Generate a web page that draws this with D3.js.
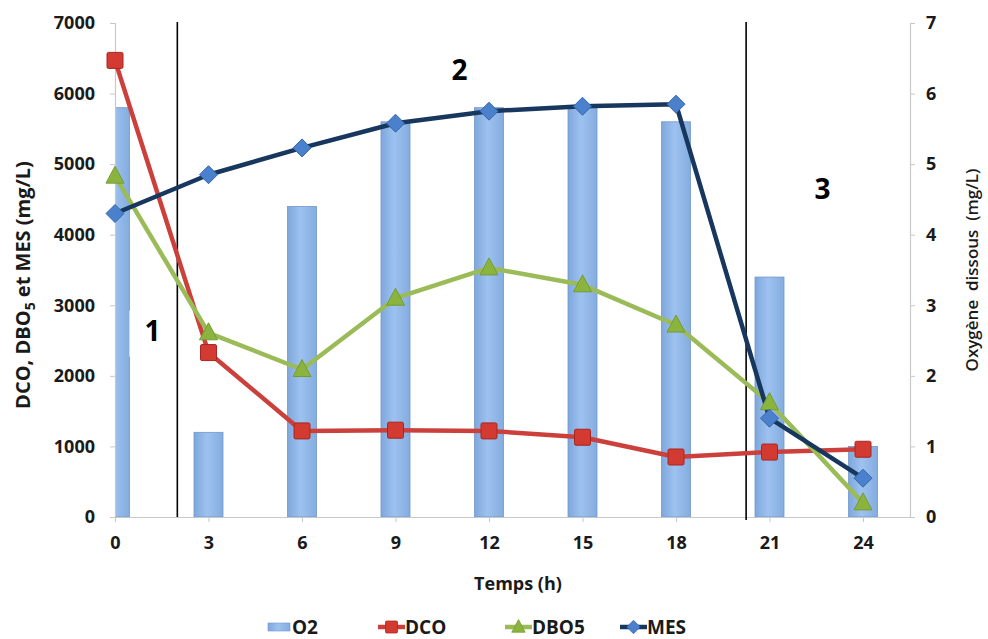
<!DOCTYPE html>
<html>
<head>
<meta charset="utf-8">
<script src="https://cdn.jsdelivr.net/npm/d3@7/dist/d3.min.js"></script>
<style>
  html, body { margin: 0; padding: 0; background: #fff; }
  svg { display: block; font-family: "Open Sans", Lato, sans-serif; }
</style>
</head>
<body>
<svg id="chart" width="988" height="639"></svg>
<script>
// Sampling times (h)
const hours = [0, 3, 6, 9, 12, 15, 18, 21, 24];
// Dissolved oxygen (mg/L), right axis
const o2 = [5.8, 1.2, 4.4, 5.6, 5.8, 5.8, 5.6, 3.4, 1.0];
// DCO, DBO5, MES (mg/L), left axis
const dco = [6470, 2330, 1220, 1230, 1220, 1130, 850, 920, 960];
const dbo5 = [4830, 2610, 2090, 3100, 3530, 3290, 2720, 1620, 200];
const mes = [4300, 4850, 5230, 5580, 5750, 5820, 5850, 1400, 550];

const leftTicks = [0, 1000, 2000, 3000, 4000, 5000, 6000, 7000];
const rightTicks = [0, 1, 2, 3, 4, 5, 6, 7];
// Phase boundaries (h) and phase labels
const phaseBounds = [2, 20.25];
const phaseLabels = [
  { text: "1", h: 1.2, v: 2500, boxed: true },
  { text: "2", h: 11.05, v: 6190 },
  { text: "3", h: 22.7, v: 4500 }
];

const svg = d3.select("#chart");
const plot = { left: 115, right: 910, top: 23, bottom: 517 };

const x = d3.scaleLinear().domain([0, 24]).range([115, 863]);
const yL = d3.scaleLinear().domain([0, 7000]).range([plot.bottom, plot.top]);
const yR = d3.scaleLinear().domain([0, 7]).range([plot.bottom, plot.top]);

const defs = svg.append("defs");
const barGrad = defs.append("linearGradient").attr("id", "barGrad")
  .attr("x1", "0%").attr("x2", "100%").attr("y1", "0%").attr("y2", "0%");
barGrad.append("stop").attr("offset", "0%").attr("stop-color", "#7fa7dc");
barGrad.append("stop").attr("offset", "45%").attr("stop-color", "#9dc2f0");
barGrad.append("stop").attr("offset", "100%").attr("stop-color", "#84acdf");

defs.append("clipPath").attr("id", "plotClip").append("rect")
  .attr("x", plot.left).attr("y", 0)
  .attr("width", plot.right - plot.left).attr("height", plot.bottom);

const grey = "#c8c8c8";
const textCol = "#1a1a1a";
const fontB = "'Open Sans', sans-serif";

// Bars: dissolved oxygen
const barW = 29;
svg.append("g").attr("clip-path", "url(#plotClip)")
  .selectAll("rect").data(hours).join("rect")
  .attr("x", (d) => x(d) - barW / 2)
  .attr("y", (d, i) => yR(o2[i]))
  .attr("width", barW)
  .attr("height", (d, i) => plot.bottom - yR(o2[i]))
  .attr("fill", "url(#barGrad)")
  .attr("stroke", "#7197cc").attr("stroke-width", 0.8);

// Axes
const axL = svg.append("g").attr("transform", `translate(${plot.left},0)`)
  .call(d3.axisLeft(yL).tickValues(leftTicks).tickSize(5).tickPadding(15).tickFormat(d3.format("d")));
const axR = svg.append("g").attr("transform", `translate(${plot.right},0)`)
  .call(d3.axisRight(yR).tickValues(rightTicks).tickSize(5).tickPadding(11).tickFormat(d3.format("d")));
const axX = svg.append("g").attr("transform", `translate(0,${plot.bottom})`)
  .call(d3.axisBottom(x).tickValues(hours).tickSize(5).tickPadding(14).tickFormat(d3.format("d")));
// x axis baseline across full plot width
axX.select(".domain").attr("d", `M${plot.left},0.5H${plot.right}`);
[axL, axR, axX].forEach((a) => {
  a.selectAll(".domain").attr("stroke", grey).attr("stroke-width", 1.2);
  a.selectAll(".tick line").attr("stroke", grey);
  a.selectAll(".tick text").attr("fill", textCol)
    .attr("font-size", 18).attr("font-weight", "bold")
    .attr("font-family", fontB);
});

// Phase boundaries
svg.append("g").selectAll("line").data(phaseBounds).join("line")
  .attr("x1", (d) => x(d)).attr("x2", (d) => x(d))
  .attr("y1", 22).attr("y2", (d, i) => (i === 0 ? 517 : 520))
  .attr("stroke", "#000").attr("stroke-width", 1.6);

// Lines
const series = [
  { name: "DCO", values: dco, color: "#cc403c", mFill: "#d23a32", mStroke: "#a8261f", shape: "square" },
  { name: "DBO5", values: dbo5, color: "#9bbb59", mFill: "#8ab43d", mStroke: "#759c30", shape: "triangle" },
  { name: "MES", values: mes, color: "#17375e", mFill: "#4a80cc", mStroke: "#3566a8", shape: "diamond" }
];
const line = d3.line();

function marker(g, shape, fill, stroke) {
  if (shape === "square") {
    g.append("rect").attr("x", -8).attr("y", -8).attr("width", 16).attr("height", 16)
      .attr("rx", 1.5).attr("fill", fill).attr("stroke", stroke).attr("stroke-width", 1);
  } else if (shape === "triangle") {
    g.append("path").attr("d", "M0,-10L9,7L-9,7Z")
      .attr("fill", fill).attr("stroke", stroke).attr("stroke-width", 1);
  } else {
    g.append("path").attr("d", "M0,-9L9,0L0,9L-9,0Z")
      .attr("fill", fill).attr("stroke", stroke).attr("stroke-width", 1);
  }
}

series.forEach((s) => {
  const pts = hours.map((h, i) => [x(h), yL(s.values[i])]);
  svg.append("path").attr("d", line(pts))
    .attr("fill", "none").attr("stroke", s.color)
    .attr("stroke-width", 4.5).attr("stroke-linejoin", "round");
});
series.forEach((s) => {
  svg.append("g").selectAll("g").data(hours).join("g")
    .attr("transform", (h, i) => `translate(${x(h)},${yL(s.values[i])})`)
    .each(function () { marker(d3.select(this), s.shape, s.mFill, s.mStroke); });
});

// Phase labels
phaseLabels.forEach((p) => {
  const cx = x(p.h), cy = yL(p.v);
  if (p.boxed) {
    svg.append("rect").attr("x", cx - 23).attr("y", cy - 30)
      .attr("width", 46).attr("height", 46).attr("fill", "#fff");
  }
  svg.append("text").attr("x", cx).attr("y", cy)
    .attr("text-anchor", "middle").attr("font-size", 28).attr("font-weight", "bold")
    .attr("font-family", fontB).attr("fill", "#000").text(p.text);
});

// Axis titles
svg.append("text").attr("x", 518).attr("y", 590)
  .attr("text-anchor", "middle").attr("font-size", 18).attr("font-weight", "bold")
  .attr("font-family", fontB).attr("fill", textCol).text("Temps (h)");

const lt = svg.append("text")
  .attr("transform", "translate(30,285) rotate(-90)")
  .attr("text-anchor", "middle").attr("font-size", 20).attr("font-weight", "bold")
  .attr("font-family", fontB).attr("fill", textCol);
lt.append("tspan").text("DCO, DBO");
lt.append("tspan").attr("font-size", 14).attr("dy", 5).text("5");
lt.append("tspan").attr("dy", -5).text(" et MES (mg/L)");

svg.append("text")
  .attr("transform", "translate(978,270) rotate(-90)")
  .attr("text-anchor", "middle").attr("font-size", 17).attr("font-weight", 600)
  .attr("font-family", fontB).attr("fill", textCol).attr("xml:space", "preserve")
  .text("Oxyg\u00e8ne  dissous  (mg/L)");

// Legend
const legY = 627;
const leg = svg.append("g");
leg.append("rect").attr("x", 268).attr("y", legY - 4).attr("width", 22).attr("height", 8)
  .attr("fill", "url(#barGrad)").attr("stroke", "#7197cc").attr("stroke-width", 0.6);
leg.append("text").attr("x", 292).attr("y", legY + 7).attr("font-size", 19)
  .attr("font-weight", "bold").attr("font-family", fontB).attr("fill", textCol).text("O2");
const legPos = [378, 505, 620];
series.forEach((s, i) => {
  const lx = legPos[i];
  leg.append("line").attr("x1", lx).attr("x2", lx + 27).attr("y1", legY).attr("y2", legY)
    .attr("stroke", s.color).attr("stroke-width", 4.5);
  const m = leg.append("g").attr("transform", `translate(${lx + 13.5},${legY}) scale(0.75)`);
  marker(m, s.shape, s.mFill, s.mStroke);
  leg.append("text").attr("x", lx + 27).attr("y", legY + 7).attr("font-size", 19)
    .attr("font-weight", "bold").attr("font-family", fontB).attr("fill", textCol).text(s.name);
});
</script>
</body>
</html>
